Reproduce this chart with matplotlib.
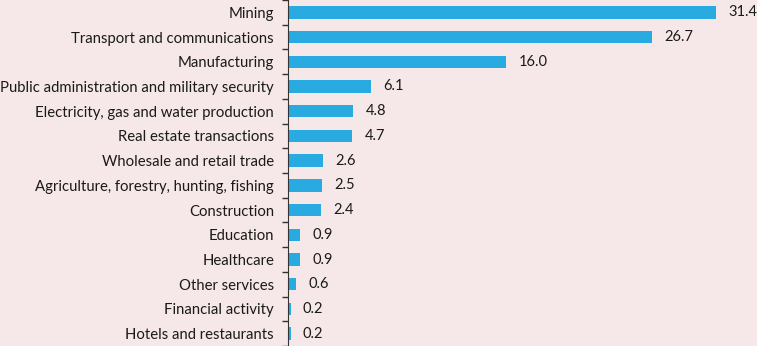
import matplotlib
matplotlib.use("Agg")
import matplotlib.pyplot as plt

categories = ["Mining", "Transport and communications", "Manufacturing",
              "Public administration and military security",
              "Electricity, gas and water production", "Real estate transactions",
              "Wholesale and retail trade", "Agriculture, forestry, hunting, fishing",
              "Construction", "Education", "Healthcare", "Other services",
              "Financial activity", "Hotels and restaurants"]
values = [31.4, 26.7, 16.0, 6.1, 4.8, 4.7, 2.6, 2.5, 2.4, 0.9, 0.9, 0.6, 0.2, 0.2]

bg = "#F6E8E8"
plt.rcParams['font.family'] = ['Lato', 'DejaVu Sans']
fig = plt.figure(figsize=(7.57, 3.46), dpi=100, facecolor=bg)
ax = fig.add_axes([288/757, 0.0, (757-288)/757, 1.0])
ax.set_facecolor(bg)
n = len(categories)
pos = list(range(n))
ax.barh(pos, values, height=0.5, color="#29ABE2")
ax.set_ylim(n - 0.5, -0.5)
ax.set_xlim(0, (757-288)/13.63)
for p, v in zip(pos, values):
    ax.text(v + 0.9, p, f"{v:.1f}", va="center", ha="left", fontsize=10.5, color="#1a1a1a")
ax.set_yticks(pos)
ax.set_yticklabels(categories, fontsize=10.7, color="#1a1a1a")
ax.set_yticks([i - 0.5 for i in range(n + 1)], minor=True)
ax.tick_params(axis='y', which='major', length=0, pad=10)
ax.tick_params(axis='y', which='minor', length=4, width=1, color="#333333")
ax.set_xticks([])
for s in ["top", "right", "bottom"]:
    ax.spines[s].set_visible(False)
ax.spines["left"].set_color("#333333")
fig.savefig("out.png", dpi=100, facecolor=bg)
